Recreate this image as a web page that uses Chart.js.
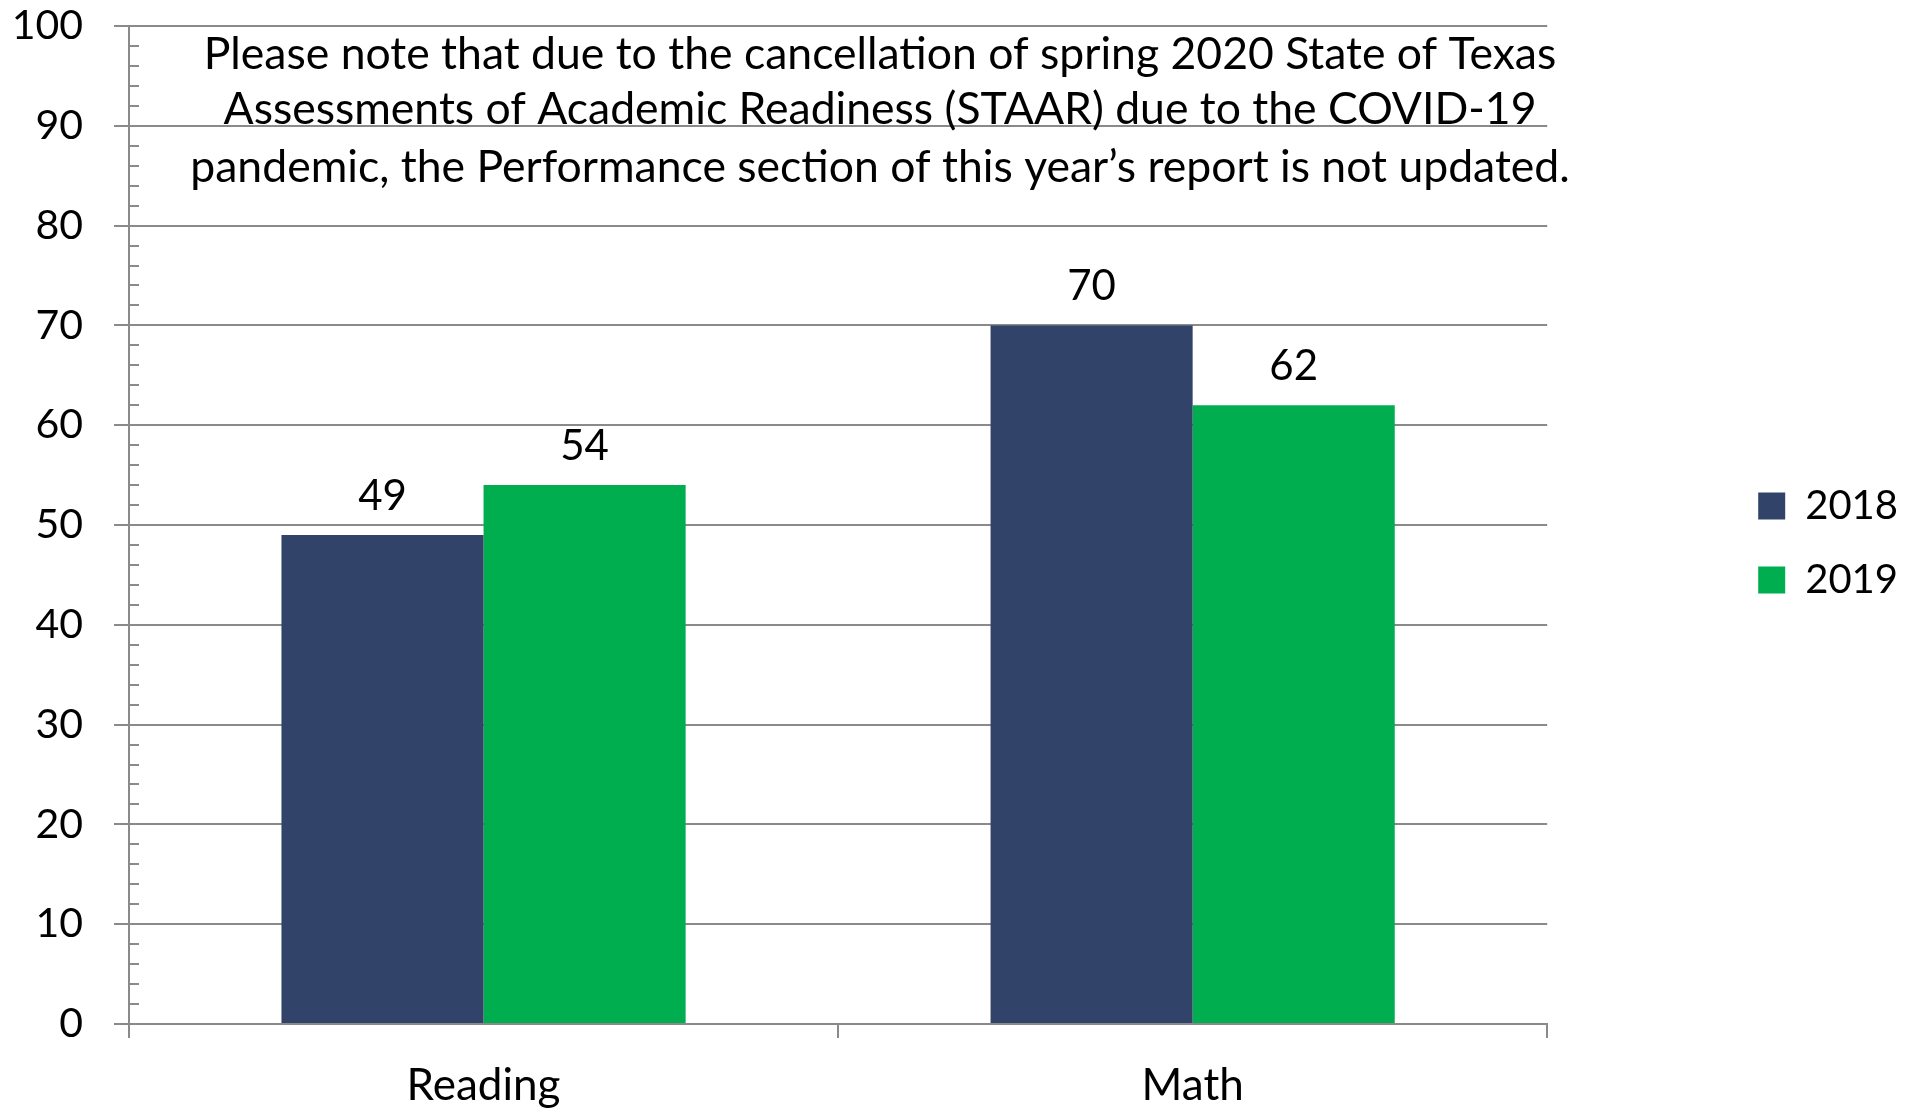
<!DOCTYPE html>
<html>
<head>
<meta charset="utf-8">
<title>STAAR Performance</title>
<script src="https://cdn.jsdelivr.net/npm/chart.js@4"></script>
<style>
  html, body { margin: 0; padding: 0; background: #fff; }
</style>
</head>
<body>
<canvas id="chart" width="1911" height="1109"></canvas>
<script>
// data
const subjects = ['Reading', 'Math'];
const years = ['2018', '2019'];
const scores2018 = [49, 70];
const scores2019 = [54, 62];
const yMin = 0;
const yMax = 100;
const yStep = 10;
const noteLines = [
    'Please note that due to the cancellation of spring 2020 State of Texas',
    'Assessments of Academic Readiness (STAAR) due to the COVID-19',
    'pandemic, the Performance section of this year\u2019s report is not updated.'
];

const navy = '#324369';
const green = '#00AE50';
const axisGray = '#8a8a8a';
const fontFamily = 'Lato, "Noto Sans", sans-serif';

Chart.defaults.font.family = fontFamily;
Chart.defaults.color = '#000';

// value labels above each bar
const barValues = {
    id: 'barValues',
    afterDatasetsDraw(chart) {
        const ctx = chart.ctx;
        ctx.save();
        ctx.font = '42px ' + fontFamily;
        ctx.fillStyle = '#000';
        ctx.textAlign = 'center';
        ctx.textBaseline = 'middle';
        chart.data.datasets.forEach((ds, i) => {
            chart.getDatasetMeta(i).data.forEach((bar, j) => {
                ctx.fillText(ds.data[j], bar.x, bar.y - 39);
            });
        });
        ctx.restore();
    }
};

// small inward ticks between the major ones
const minorTicks = {
    id: 'minorTicks',
    afterDraw(chart) {
        const y = chart.scales.y;
        const left = chart.chartArea.left;
        const ctx = chart.ctx;
        ctx.save();
        ctx.strokeStyle = axisGray;
        ctx.lineWidth = 2;
        for (let v = yMin; v <= yMax; v += 2) {
            if (v % yStep === 0) continue;
            const py = Math.round(y.getPixelForValue(v));
            ctx.beginPath();
            ctx.moveTo(left, py);
            ctx.lineTo(left + 10, py);
            ctx.stroke();
        }
        ctx.restore();
    }
};

// the COVID note written across the top of the plot
const note = {
    id: 'note',
    afterDraw(chart) {
        const ctx = chart.ctx;
        ctx.save();
        ctx.font = '40px ' + fontFamily;
        const size = 40 * 1380 / ctx.measureText(noteLines[2]).width;
        ctx.font = size.toFixed(2) + 'px ' + fontFamily;
        ctx.fillStyle = '#000';
        ctx.textAlign = 'center';
        ctx.textBaseline = 'middle';
        const rows = [55, 110, 168];
        noteLines.forEach((line, i) => ctx.fillText(line, 880, rows[i]));
        ctx.restore();
    }
};

new Chart(document.getElementById('chart'), {
    type: 'bar',
    data: {
        labels: subjects,
        datasets: [
            { label: years[0], data: scores2018, backgroundColor: navy, borderWidth: 0 },
            { label: years[1], data: scores2019, backgroundColor: green, borderWidth: 0 }
        ]
    },
    options: {
        responsive: false,
        animation: false,
        categoryPercentage: 0.57,
        barPercentage: 1.0,
        layout: { padding: { top: 26, right: 3, bottom: 0, left: 0 } },
        plugins: {
            legend: {
                position: 'right',
                align: 'center',
                fullSize: false,
                // empty title only nudges the items down a little
                title: { display: true, text: '', padding: 12, font: { size: 10 } },
                labels: {
                    boxWidth: 27,
                    boxHeight: 27,
                    padding: 34,
                    font: { size: 40 },
                    color: '#000'
                }
            },
            tooltip: { enabled: false }
        },
        scales: {
            x: {
                grid: { drawOnChartArea: false, color: axisGray, lineWidth: 2, tickLength: 14 },
                border: { color: axisGray, width: 2 },
                ticks: { font: { size: 44 }, color: '#000', padding: 21 },
                afterFit(s) { s.height = 85; }
            },
            y: {
                min: yMin,
                max: yMax,
                ticks: { stepSize: yStep, font: { size: 41 }, color: '#000', padding: 31 },
                grid: { color: axisGray, lineWidth: 2, tickLength: 15 },
                border: { color: axisGray, width: 2 },
                afterFit(s) {
                    s.width = 129;
                    s.paddingTop = 24;
                    s.paddingBottom = 24;
                }
            },
            gap: {
                position: 'right',
                grid: { display: false },
                border: { display: false },
                ticks: { display: false },
                afterFit(s) { s.width = 177; }
            }
        }
    },
    plugins: [barValues, minorTicks, note]
});
</script>
</body>
</html>
